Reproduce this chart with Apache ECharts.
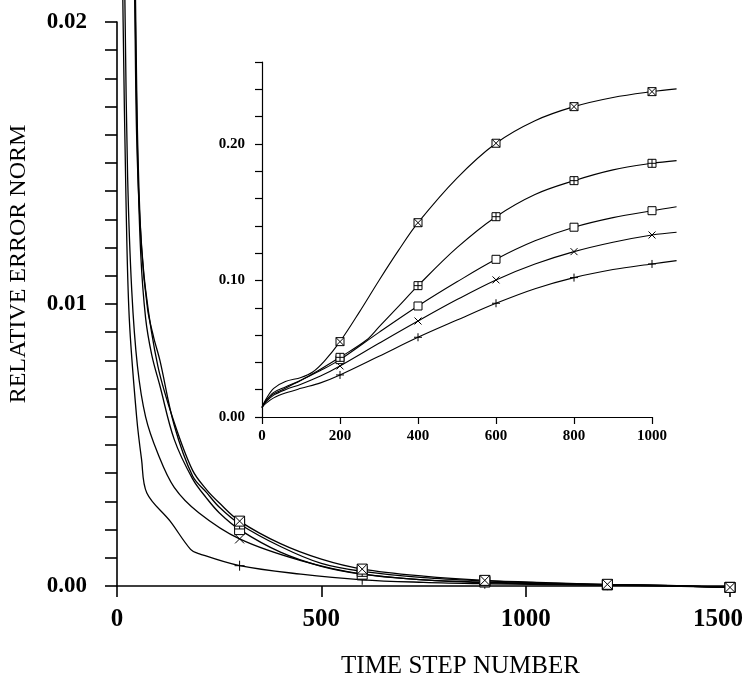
<!DOCTYPE html>
<html><head><meta charset="utf-8">
<script src="https://cdn.jsdelivr.net/npm/echarts@6/dist/echarts.min.js"></script>
<style>html,body{margin:0;padding:0;background:#fff}#c{width:744px;height:682px}</style>
</head><body><div id="c"></div>
<script>
// ---------- Main chart data (time step, relative error norm) ----------
const mainMarkerSteps = [300, 600, 900, 1200, 1500];
const mainPlusT = [12, 15, 22, 30, 48, 60, 73, 130, 180, 200, 300, 450, 600, 750, 900, 1050, 1200, 1350, 1500];
const mainPlusV = [0.0235, 0.020, 0.0137, 0.0095, 0.0060, 0.0045, 0.0033, 0.0023, 0.0013, 0.00115, 0.00072, 0.00042, 0.00022, 0.00013, 0.00008, 0.00005, 0.00003, 0.0, -0.00005];
const mainCrossT = [17, 20, 26, 36, 50, 70, 100, 140, 200, 300, 450, 600, 750, 900, 1050, 1200, 1350, 1500];
const mainCrossV = [0.0235, 0.020, 0.0145, 0.0105, 0.0078, 0.0060, 0.0047, 0.0035, 0.0026, 0.00167, 0.0009, 0.00042, 0.00022, 0.00012, 0.00007, 0.00004, 0.00001, -0.00005];
const mainSquareT = [42, 45, 50, 58, 70, 85, 105, 140, 185, 220, 250, 300, 400, 500, 600, 750, 900, 1050, 1200, 1350, 1500];
const mainSquareV = [0.0235, 0.020, 0.0155, 0.0118, 0.0095, 0.0082, 0.0071, 0.0052, 0.0038, 0.0031, 0.0026, 0.0020, 0.0012, 0.0007, 0.00042, 0.00022, 0.00014, 0.00008, 0.00004, 0.00001, -0.00005];
const mainSqPlusT = [43, 46, 51, 60, 75, 90, 105, 140, 185, 220, 250, 300, 400, 500, 600, 750, 900, 1050, 1200, 1350, 1500];
const mainSqPlusV = [0.0235, 0.020, 0.0155, 0.0120, 0.0098, 0.0088, 0.0080, 0.0057, 0.0039, 0.0033, 0.0028, 0.0022, 0.0014, 0.0008, 0.00052, 0.0003, 0.00018, 0.0001, 0.00005, 0.00001, -0.00005];
const mainSqCrossT = [41, 44, 48, 56, 70, 100, 140, 185, 220, 250, 300, 400, 500, 600, 750, 900, 1050, 1200, 1350, 1500];
const mainSqCrossV = [0.0235, 0.020, 0.016, 0.013, 0.0105, 0.0078, 0.0058, 0.0041, 0.0034, 0.00295, 0.0023, 0.0015, 0.00095, 0.0006, 0.00035, 0.0002, 0.00012, 0.00006, 0.00002, -0.00005];

// ---------- Inset chart data ----------
const insetMarkerSteps = [200, 400, 600, 800, 1000];
const insetSqCrossT = [0, 10, 30, 60, 100, 130, 160, 200, 250, 300, 350, 400, 500, 600, 700, 800, 900, 1000, 1063];
const insetSqCrossV = [0.007, 0.013, 0.021, 0.026, 0.029, 0.033, 0.041, 0.0552, 0.077, 0.100, 0.122, 0.1423, 0.175, 0.2005, 0.217, 0.2273, 0.234, 0.2383, 0.2403];
const insetSqPlusT = [0, 10, 30, 60, 100, 150, 200, 268, 300, 350, 400, 500, 600, 700, 800, 900, 1000, 1063];
const insetSqPlusV = [0.007, 0.012, 0.018, 0.022, 0.027, 0.035, 0.0437, 0.0564, 0.066, 0.081, 0.0962, 0.124, 0.1467, 0.163, 0.1731, 0.181, 0.1858, 0.1878];
const insetSquareT = [0, 10, 30, 60, 100, 150, 200, 300, 400, 500, 600, 700, 800, 900, 1000, 1063];
const insetSquareV = [0.007, 0.012, 0.017, 0.021, 0.027, 0.034, 0.042, 0.062, 0.0813, 0.099, 0.1155, 0.129, 0.139, 0.146, 0.1511, 0.154];
const insetCrossT = [0, 10, 30, 60, 100, 150, 200, 300, 400, 500, 600, 700, 800, 900, 1000, 1063];
const insetCrossV = [0.007, 0.011, 0.016, 0.020, 0.024, 0.030, 0.0374, 0.054, 0.0703, 0.086, 0.1004, 0.112, 0.1211, 0.128, 0.1333, 0.1353];
const insetPlusT = [0, 10, 30, 60, 100, 150, 200, 300, 400, 500, 600, 700, 800, 900, 1000, 1063];
const insetPlusV = [0.007, 0.010, 0.014, 0.0175, 0.021, 0.025, 0.0308, 0.0445, 0.0584, 0.071, 0.0833, 0.094, 0.1021, 0.108, 0.1121, 0.1145];

// ---------- styles ----------
const SERIF = '"Liberation Serif", "Times New Roman", serif';
const SYM = {
  plus: 'path://M0,5L10,5M5,0L5,10',
  cross: 'path://M0,0L10,10M10,0L0,10',
  square: 'path://M0,0L10,0L10,10L0,10Z',
  squarePlus: 'path://M0,0L10,0L10,10L0,10ZM0,5L10,5M5,0L5,10',
  squareCross: 'path://M0,0L10,0L10,10L0,10ZM0,0L10,10M10,0L0,10'
};

function mk(ts, vs, markers, sym, size, gi, lw) {
  const data = ts.map((t, i) => markers.indexOf(t) >= 0
    ? { value: [t, vs[i]], symbol: sym, symbolSize: size }
    : { value: [t, vs[i]], symbol: 'none' });
  return {
    type: 'line', xAxisIndex: gi, yAxisIndex: gi, data: data,
    smooth: 0.35, clip: false, showSymbol: true, showAllSymbol: true,
    lineStyle: { color: '#000', width: lw },
    itemStyle: { color: '#fff', borderColor: '#000', borderWidth: 1 },
    emphasis: { disabled: true }, silent: true, z: 3
  };
}

const INSET_X_MAX = 1000;       // last labelled tick of the inset
const INSET_DATA_X_MAX = 1063;  // curves run a little past the last tick

const series = [
  mk(mainPlusT, mainPlusV, mainMarkerSteps, SYM.plus, 10, 0, 1.3),
  mk(mainCrossT, mainCrossV, mainMarkerSteps, SYM.cross, 9, 0, 1.3),
  mk(mainSquareT, mainSquareV, mainMarkerSteps, SYM.square, 10, 0, 1.3),
  mk(mainSqPlusT, mainSqPlusV, mainMarkerSteps, SYM.squarePlus, 10, 0, 1.3),
  mk(mainSqCrossT, mainSqCrossV, mainMarkerSteps, SYM.squareCross, 10, 0, 1.3),
  mk(insetPlusT, insetPlusV, insetMarkerSteps, SYM.plus, 8, 2, 1.1),
  mk(insetCrossT, insetCrossV, insetMarkerSteps, SYM.cross, 7, 2, 1.1),
  mk(insetSquareT, insetSquareV, insetMarkerSteps, SYM.square, 8, 2, 1.1),
  mk(insetSqPlusT, insetSqPlusV, insetMarkerSteps, SYM.squarePlus, 8, 2, 1.1),
  mk(insetSqCrossT, insetSqCrossV, insetMarkerSteps, SYM.squareCross, 8, 2, 1.1)
];

function isMult(v, step) { const r = v / step; return Math.abs(r - Math.round(r)) < 1e-6; }

const insetW = 390;
const option = {
  animation: false,
  backgroundColor: '#fff',
  grid: [
    { left: 117, top: 22, width: 613, height: 564, outerBoundsMode: 'none' },
    { left: 262, top: 62, width: insetW, height: 355, outerBoundsMode: 'none' },
    { left: 262, top: 62, width: insetW * INSET_DATA_X_MAX / INSET_X_MAX, height: 355, outerBoundsMode: 'none' }
  ],
  xAxis: [
    {
      type: 'value', gridIndex: 0, min: 0, max: 1500, interval: 500,
      axisLine: { show: true, onZero: false, lineStyle: { color: '#000', width: 1.6 } },
      axisTick: { show: true, inside: false, length: 11, lineStyle: { color: '#000', width: 1.6 } },
      axisLabel: {
        color: '#000', fontFamily: SERIF, fontWeight: 'bold', fontSize: 25, margin: 21,
        formatter: v => v === 1500 ? '{e|' + v + '}' : String(v),
        rich: { e: { color: '#000', fontFamily: SERIF, fontWeight: 'bold', fontSize: 25, padding: [0, 24, 0, 0] } }
      },
      splitLine: { show: false },
      name: 'TIME STEP NUMBER', nameLocation: 'middle', nameGap: 68,
      nameTextStyle: { color: '#000', fontFamily: SERIF, fontSize: 25, padding: [0, 0, 0, 74] }
    },
    {
      type: 'value', gridIndex: 1, min: 0, max: INSET_X_MAX, interval: 200,
      axisLine: { show: true, onZero: false, lineStyle: { color: '#000', width: 1.2 } },
      axisTick: { show: true, inside: false, length: 7, lineStyle: { color: '#000', width: 1.2 } },
      axisLabel: { color: '#000', fontFamily: SERIF, fontWeight: 'bold', fontSize: 15, margin: 12, formatter: v => String(v) },
      splitLine: { show: false }
    },
    { type: 'value', gridIndex: 2, min: 0, max: INSET_DATA_X_MAX, show: false }
  ],
  yAxis: [
    {
      type: 'value', gridIndex: 0, min: 0, max: 0.02, interval: 0.001,
      axisLine: { show: true, onZero: false, lineStyle: { color: '#000', width: 1.6 } },
      axisTick: { show: true, inside: false, length: 12, lineStyle: { color: '#000', width: 1.6 } },
      axisLabel: {
        color: '#000', fontFamily: SERIF, fontWeight: 'bold', fontSize: 23, margin: 30,
        formatter: v => isMult(v, 0.01) ? v.toFixed(2) : ''
      },
      splitLine: { show: false },
      name: 'RELATIVE ERROR NORM', nameLocation: 'middle', nameGap: 86, nameRotate: 90,
      nameTextStyle: { color: '#000', fontFamily: SERIF, fontSize: 24, padding: [0, 0, 0, 80] }
    },
    {
      type: 'value', gridIndex: 1, min: 0, max: 0.26, interval: 0.02,
      axisLine: { show: true, onZero: false, lineStyle: { color: '#000', width: 1.2 } },
      axisTick: { show: true, inside: false, length: 7, lineStyle: { color: '#000', width: 1.2 } },
      axisLabel: {
        color: '#000', fontFamily: SERIF, fontWeight: 'bold', fontSize: 15, margin: 17,
        formatter: v => isMult(v, 0.1) ? v.toFixed(2) : ''
      },
      splitLine: { show: false }
    },
    { type: 'value', gridIndex: 2, min: 0, max: 0.26, show: false }
  ],
  series: series
};

const chart = echarts.init(document.getElementById('c'), null, { renderer: 'canvas' });
chart.setOption(option);
</script>
</body></html>
